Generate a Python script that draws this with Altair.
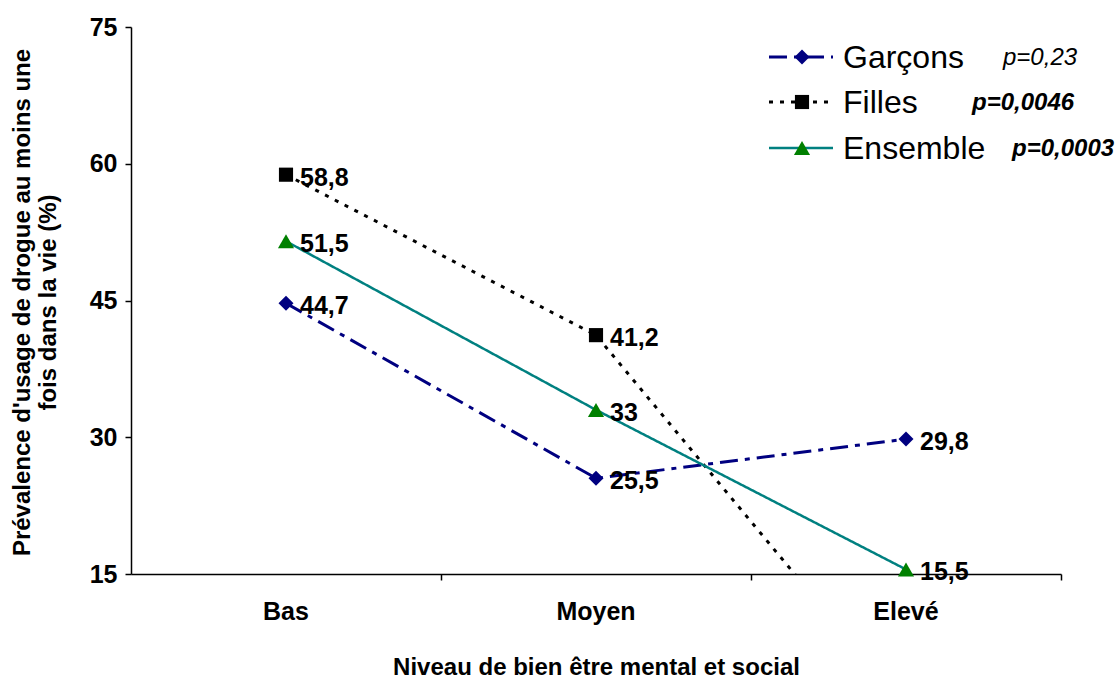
import altair as alt
import pandas as pd

# Catégories et séries
niveaux = ["Bas", "Moyen", "Elevé"]
series = ["Garçons", "Filles", "Ensemble"]
garcons = [44.7, 25.5, 29.8]
filles = [58.8, 41.2, 0.3]
ensemble = [51.5, 33.0, 15.5]
p_valeurs = ["p=0,23", "p=0,0046", "p=0,0003"]
y_ticks = [15, 30, 45, 60, 75]

FONT = "Liberation Sans"
Y_MIN, Y_MAX = 15, 75

styles = {
    "Garçons": dict(line="#000080", marker="#000080", shape="diamond", size=225,
                    width=3, dash=[18, 7, 5, 7]),
    "Filles": dict(line="#000000", marker="#000000", shape="square", size=200,
                   width=3, dash=[4, 7]),
    "Ensemble": dict(line="#008080", marker="#008000", shape="triangle-up", size=260,
                     width=2.5, dash=[1, 0]),
}

rows = []
for nom, vals in zip(series, [garcons, filles, ensemble]):
    for niv, v in zip(niveaux, vals):
        rows.append({"niveau": niv, "serie": nom, "valeur": v,
                     "etiquette": f"{v:g}".replace(".", ",")})
df = pd.DataFrame(rows)

x_enc = alt.X("niveau:N", sort=niveaux,
              scale=alt.Scale(type="band", paddingInner=0, paddingOuter=0),
              axis=alt.Axis(title="Niveau de bien être mental et social",
                            labelAngle=0, bandPosition=1, tickSize=6,
                            labelPadding=19, titlePadding=31,
                            labelFontSize=25, titleFontSize=24))
y_scale = alt.Scale(domain=[Y_MIN, Y_MAX], nice=False, zero=False)
y_enc = alt.Y("valeur:Q", scale=y_scale,
              axis=alt.Axis(values=y_ticks, grid=False, tickSize=6,
                            labelPadding=8, labelFontSize=25,
                            title=["Prévalence d'usage de drogue au moins une",
                                   "fois dans la vie (%)"],
                            titleFontSize=24, titleLineHeight=26,
                            titleBaseline="middle", titleAngle=-90,
                            titleX=-109, titleY=275))

layers = []
for nom in series:
    st = styles[nom]
    sub = df[df["serie"] == nom]
    base = alt.Chart(sub).encode(x=x_enc, y=y_enc)
    layers.append(base.mark_line(color=st["line"], strokeWidth=st["width"],
                                 strokeDash=st["dash"], clip=True))
    visibles = base.transform_filter(alt.datum.valeur >= Y_MIN)
    layers.append(visibles.mark_point(shape=st["shape"], size=st["size"],
                                      filled=True, opacity=1, color=st["marker"]))
    layers.append(visibles.mark_text(align="left", baseline="middle", dx=14, dy=3,
                                     font=FONT, fontSize=25, fontWeight="bold",
                                     color="black").encode(text="etiquette:N"))

# Légende dessinée dans le coin supérieur droit
leg_y = [30, 75, 121]
leg_df = pd.DataFrame({"serie": series, "p": p_valeurs})
p_x = [872, 841, 881]
p_weight = ["normal", "bold", "bold"]
for i, nom in enumerate(series):
    st = styles[nom]
    row = alt.Chart(leg_df.iloc[[i]])
    layers.append(row.mark_rule(color=st["line"], strokeWidth=st["width"],
                                strokeDash=st["dash"]).encode(
        x=alt.value(638), x2=alt.value(702), y=alt.value(leg_y[i])))
    layers.append(row.mark_point(shape=st["shape"], size=st["size"], filled=True,
                                 opacity=1, color=st["marker"]).encode(
        x=alt.value(671), y=alt.value(leg_y[i])))
    layers.append(row.mark_text(align="left", baseline="middle", font=FONT,
                                fontSize=32, color="black").encode(
        x=alt.value(712), y=alt.value(leg_y[i] + 1), text="serie:N"))
    layers.append(row.mark_text(align="left", baseline="middle", font=FONT,
                                fontSize=24, fontStyle="italic",
                                fontWeight=p_weight[i], color="black").encode(
        x=alt.value(p_x[i]), y=alt.value(leg_y[i] + 1), text="p:N"))

chart = alt.layer(*layers).properties(
    width=930, height=547,
    autosize=alt.AutoSizeParams(type="none"),
    padding={"left": 131, "top": 27, "right": 57, "bottom": 110},
    background="white",
).configure_view(stroke=None).configure_axis(
    domainColor="black", domainWidth=1.5, tickColor="black", tickWidth=1.5,
    labelFont=FONT, titleFont=FONT, labelFontWeight="bold", titleFontWeight="bold",
    labelColor="black", titleColor="black",
)

chart.save("out.html", embed_options={"renderer": "svg", "actions": False})
